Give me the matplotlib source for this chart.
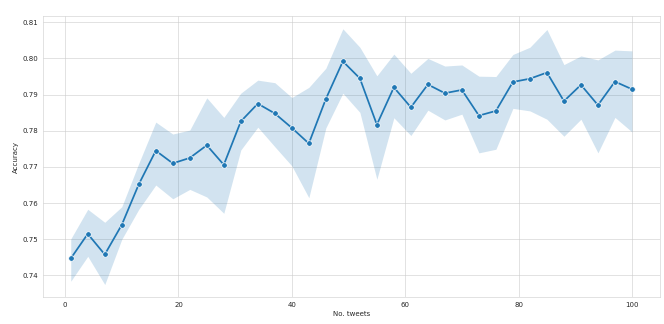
import matplotlib
matplotlib.use("Agg")
import matplotlib.pyplot as plt
import seaborn as sns

# 데이터
n_tweets = [1, 4, 7, 10, 13, 16, 19, 22, 25, 28, 31, 34, 37, 40, 43, 46, 49,
            52, 55, 58, 61, 64, 67, 70, 73, 76, 79, 82, 85, 88, 91, 94, 97, 100]
accuracy = [0.7447, 0.7515, 0.7458, 0.7540, 0.7652, 0.7745, 0.7710, 0.7725,
            0.7760, 0.7706, 0.7826, 0.7875, 0.7848, 0.7808, 0.7765, 0.7888,
            0.7992, 0.7945, 0.7817, 0.7920, 0.7865, 0.7928, 0.7904, 0.7913,
            0.7842, 0.7855, 0.7935, 0.7944, 0.7961, 0.7882, 0.7927, 0.7871,
            0.7936, 0.7915]
acc_upper = [0.7501, 0.7583, 0.7547, 0.7590, 0.7710, 0.7824, 0.7791, 0.7802,
             0.7891, 0.7837, 0.7904, 0.7940, 0.7933, 0.7892, 0.7920, 0.7973,
             0.8082, 0.8031, 0.7952, 0.8012, 0.7959, 0.8000, 0.7979, 0.7982,
             0.7951, 0.7950, 0.8011, 0.8031, 0.8080, 0.7983, 0.8007, 0.7996,
             0.8023, 0.8021]
acc_lower = [0.7384, 0.7453, 0.7375, 0.7500, 0.7583, 0.7650, 0.7612, 0.7638,
             0.7617, 0.7572, 0.7747, 0.7810, 0.7756, 0.7703, 0.7615, 0.7808,
             0.7904, 0.7851, 0.7666, 0.7836, 0.7787, 0.7857, 0.7830, 0.7846,
             0.7739, 0.7749, 0.7862, 0.7855, 0.7832, 0.7785, 0.7832, 0.7739,
             0.7837, 0.7797]

sns.set_style("whitegrid")
plt.rcParams['font.family'] = ['DejaVu Sans']

fig = plt.figure(figsize=(13.28, 6.48), dpi=50)
ax = fig.add_axes([0.0643, 0.0824, 0.9297, 0.8682])

color = '#1f77b4'
ax.fill_between(n_tweets, acc_lower, acc_upper, color=color, alpha=0.2, linewidth=0)
ax.plot(n_tweets, accuracy, color=color, linewidth=2.5, marker='o',
        markersize=8, markeredgecolor='white', markeredgewidth=1)

ax.set_xlabel('No. tweets')
ax.set_ylabel('Accuracy')
ax.set_yticks([0.74, 0.75, 0.76, 0.77, 0.78, 0.79, 0.80, 0.81])
ax.set_xticks([0, 20, 40, 60, 80, 100])

fig.savefig('out.png', dpi=50)
